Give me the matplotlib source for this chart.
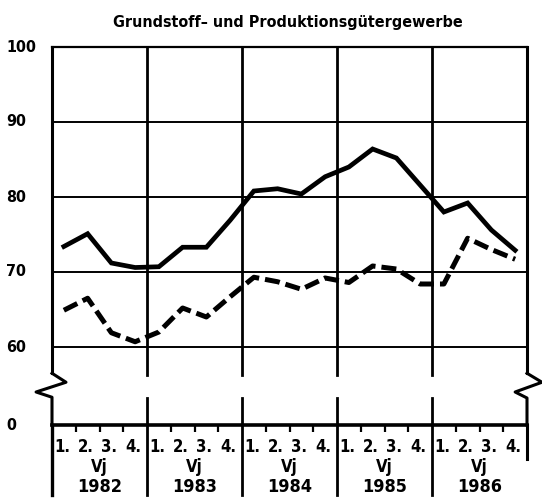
import matplotlib
matplotlib.use('Agg')
from matplotlib import pyplot as plt

plt.rcParams['font.family'] = ['DejaVu Sans']
plt.rcParams['font.stretch'] = 'condensed'
plt.rcParams['font.weight'] = 'bold'

title = 'Grundstoff– und Produktionsgütergewerbe'
years = ['1982', '1983', '1984', '1985', '1986']
quarters = ['1.', '2.', '3.', '4.']
solid = [73.4, 75.1, 71.2, 70.6, 70.7, 73.3, 73.3, 76.9,
         80.8, 81.1, 80.4, 82.7, 84.0, 86.4, 85.2, 81.6,
         78.0, 79.2, 75.6, 72.9]
dashed = [64.9, 66.5, 61.9, 60.7, 62.0, 65.2, 64.0, 66.7,
          69.3, 68.7, 67.7, 69.2, 68.6, 70.8, 70.4, 68.4,
          68.4, 74.5, 73.0, 71.7]
ytick_vals = [49.6, 60, 70, 80, 90, 100]
ytick_labels = ['0', '60', '70', '80', '90', '100']

fig = plt.figure(figsize=(5.42, 5.0), dpi=100)
ax = fig.add_axes([52/542, 1-425/500, 475/542, 378/500])
ymin, ymax = 49.6, 100
n = len(solid)
ax.set_xlim(0, n)
ax.set_ylim(ymin, ymax)

# grid
for v in [60, 70, 80, 90]:
    ax.plot([0, n], [v, v], color='black', lw=1.4, zorder=1)

# year separators with the break gap, extended below the axes
gap_top, gap_bot = 56.3, 53.2
for i in range(1, len(years)):
    ax.plot([4*i, 4*i], [gap_top, ymax], color='black', lw=2, zorder=1)
    ax.plot([4*i, 4*i], [ymin, gap_bot], color='black', lw=2, zorder=1)
    ax.plot([4*i, 4*i], [-0.185, 0], color='black', lw=2, clip_on=False,
            transform=ax.get_xaxis_transform())

# left/right borders with zigzag break
ax.plot([0, 0], [56.5, ymax], color='black', lw=2.2, clip_on=False)
ax.plot([0, 0.59, -0.67, 0, 0], [56.5, 55.3, 54.0, 53.3, ymin],
        color='black', lw=2.2, clip_on=False)
ax.plot([0, 0], [-0.185, 0], color='black', lw=2.4, clip_on=False,
        transform=ax.get_xaxis_transform())
ax.plot([n, n], [56.5, ymax], color='black', lw=2.2, clip_on=False)
ax.plot([n, n+0.63, n-0.5, n, n], [56.5, 55.3, 54.0, 53.2, ymin],
        color='black', lw=2.2, clip_on=False)
ax.plot([n, n], [-0.09, 0], color='black', lw=2.2, clip_on=False,
        transform=ax.get_xaxis_transform())

for s in ['left', 'right']:
    ax.spines[s].set_visible(False)
ax.spines['top'].set_linewidth(1.6)
ax.spines['bottom'].set_linewidth(2.6)

# data
x = [i + 0.5 for i in range(n)]
ax.plot(x, solid, color='black', lw=3.4, solid_joinstyle='miter', zorder=3)
ax.plot(x, dashed, color='black', lw=3.6, dashes=(3.0, 1.2), zorder=3)

# ticks
ax.set_xticks([i for i in range(n + 1) if i % 4 != 0])
ax.set_xticklabels([])
ax.tick_params(axis='x', direction='out', length=5, width=1.6, color='black')
ax.set_yticks(ytick_vals)
ax.set_yticklabels([])
ax.tick_params(axis='y', length=0)
for v, lab in zip(ytick_vals, ytick_labels):
    ax.text(-46/23.75, v, lab, ha='left', va='center', fontsize=11.5,
            fontweight='bold', clip_on=False)

# bottom labels
for i in range(n):
    ax.text(i + 0.42, -0.058, quarters[i % 4], transform=ax.get_xaxis_transform(),
            ha='center', va='center', fontsize=12, fontweight='bold')
for j, yr in enumerate(years):
    ax.text(4*j + 2, -0.11, 'Vj', transform=ax.get_xaxis_transform(),
            ha='center', va='center', fontsize=12, fontweight='bold')
    ax.text(4*j + 2, -0.165, yr, transform=ax.get_xaxis_transform(),
            ha='center', va='center', fontsize=13, fontweight='bold')

fig.text(288/542, 1-22/500, title, ha='center', va='center', fontsize=11.5,
         fontweight='bold')

fig.savefig('out.png', dpi=100)
